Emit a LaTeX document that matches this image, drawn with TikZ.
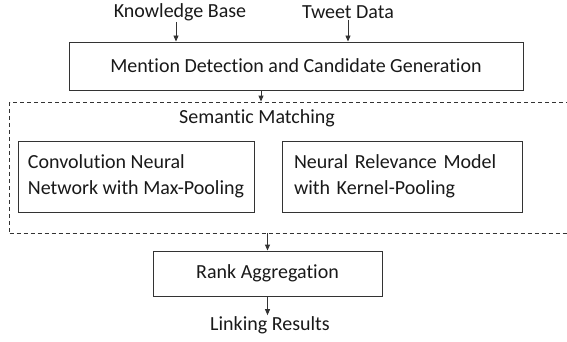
\documentclass[tikz,border=0pt]{standalone}
\usepackage{fontspec}
\setmainfont{Carlito}[Ligatures=NoCommon]
\usetikzlibrary{arrows.meta}
\begin{document}
\begin{tikzpicture}[x=1pt,y=-1pt,
  font=\fontsize{20}{26}\selectfont,
  lbl/.style={inner sep=1pt, text=black!90},
  box/.style={draw=black!80, line width=0.9pt, rectangle, inner sep=0pt, text=black!90},
  dbox/.style={draw=black!80, line width=0.8pt, dash pattern=on 4pt off 3pt, rectangle, inner sep=0pt},
  arr/.style={draw=black!80, line width=0.9pt, -{Triangle[length=6pt,width=5pt]}}]
\useasboundingbox (0,0) rectangle (567,342);
\begin{scope}
\clip (0,0) rectangle (567,342);
\node[dbox, minimum width=568pt, minimum height=131pt] (sm) at (293.5,167.5) {};
\end{scope}
\node[lbl] (kb) at (180,12) {Knowledge Base};
\node[lbl] (tw) at (348,12) {Tweet Data};
\node[box, minimum width=454pt, minimum height=48pt] (md) at (296,66) {Mention Detection and Candidate Generation};
\node[lbl] (sml) at (257,118) {Semantic Matching};
\node[box, minimum width=236pt, minimum height=71pt, align=left] (cnn) at (136,176.5) {Convolution Neural\\Network with Max-Pooling};
\node[box, minimum width=240pt, minimum height=71pt, text width=216pt, align=left] (nrm) at (402,176.5) {Neural Relevance Model\\with Kernel-Pooling};
\node[box, minimum width=229pt, minimum height=45pt] (ra) at (267.5,273.5) {Rank Aggregation};
\node[lbl] (lr) at (270,325) {Linking Results};
\draw[arr] ([xshift=-4pt]kb.south) -- ([xshift=-4pt]kb.south |- md.north);
\draw[arr] (tw.south) -- (tw.south |- md.north);
\draw[arr] ([xshift=-35pt]md.south) -- ([xshift=-35pt]md.south |- sm.north);
\draw[arr] (sm.south -| ra.north) -- (ra.north);
\draw[arr] (ra.south) -- (ra.south |- lr.north);
\end{tikzpicture}
\end{document}
